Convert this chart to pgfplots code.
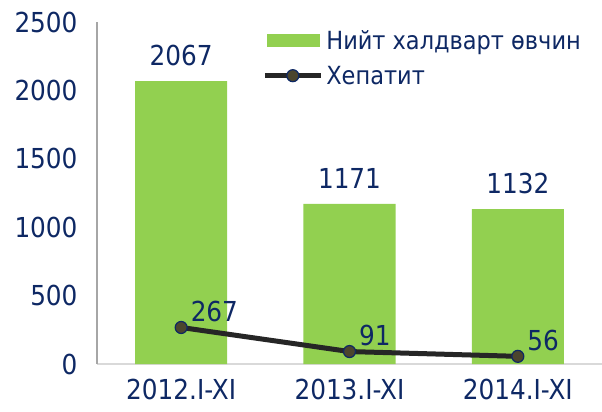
\documentclass[border=0pt]{standalone}
\usepackage{pgfplots}
\pgfplotsset{compat=1.18}
\usepackage{fontspec}
\IfFontExistsTF{DejaVu Sans Condensed}{\setmainfont{DejaVu Sans Condensed}}{\setmainfont{DejaVu Sans}}
\definecolor{barg}{RGB}{146,208,80}
\definecolor{navy}{RGB}{14,40,100}
\definecolor{lineg}{RGB}{38,38,38}
\definecolor{mfill}{RGB}{75,69,45}
\newcommand{\lblfont}{\fontsize{27.5}{30}\selectfont}
\newcommand{\legfont}{\fontsize{25}{28}\selectfont}

\begin{document}
\begin{tikzpicture}
\begin{axis}[
  scale only axis, width=505pt, height=342pt,
  xmin=-0.5, xmax=2.5, ymin=0, ymax=2500,
  xtick={0,1,2}, xticklabels={2012.I-XI,2013.I-XI,2014.I-XI},
  ytick={0,500,1000,1500,2000,2500},
  major tick length=0pt,
  axis x line*=bottom, axis y line*=left,
  x axis line style={-, draw=black!15, line width=1.5pt},
  y axis line style={-, draw=black!35, line width=1.5pt},
  tick label style={font=\lblfont, text=navy},
  yticklabel style={xshift=-16pt},
  xticklabel style={yshift=-12pt},
  /pgf/number format/assume math mode=true,
  /pgf/number format/1000 sep={},
  legend style={draw=none, fill=none, at={(0.327,0.985)}, anchor=north west,
    font=\legfont, text=navy, inner sep=0pt,
    row sep=9pt, nodes={inner sep=3pt}},
  legend cell align=left,
]
\addplot[ybar, bar width=92pt, fill=barg, draw=none,
  nodes near coords,
  every node near coord/.append style={font=\lblfont, text=navy, inner sep=0pt, anchor=south, yshift=15pt},
  legend image code/.code={\fill[barg] (0pt,-6.5pt) rectangle (53pt,6.5pt);}]
  coordinates {(0,2067) (1,1171) (2,1132)};
\addlegendentry{Нийт халдварт өвчин}
\addplot[sharp plot, draw=lineg, line width=5pt, mark=*,
  mark options={fill=mfill, draw=navy, line width=1.2pt}, mark size=6pt,
  nodes near coords,
  every node near coord/.append style={font=\lblfont, text=navy, inner sep=0pt, anchor=south west, xshift=9pt, yshift=5pt},
  legend image code/.code={\draw[lineg, line width=5pt] (-2pt,0pt) -- (54pt,0pt);
    \filldraw[fill=mfill, draw=navy, line width=1.2pt] (26pt,0pt) circle (6pt);}]
  coordinates {(0,267) (1,91) (2,56)};
\addlegendentry{Хепатит}
\end{axis}
\pgfresetboundingbox
\path ([shift={(-97pt,-48pt)}]current axis.south west) rectangle ([shift={(0pt,22pt)}]current axis.north east);
\end{tikzpicture}
\end{document}
